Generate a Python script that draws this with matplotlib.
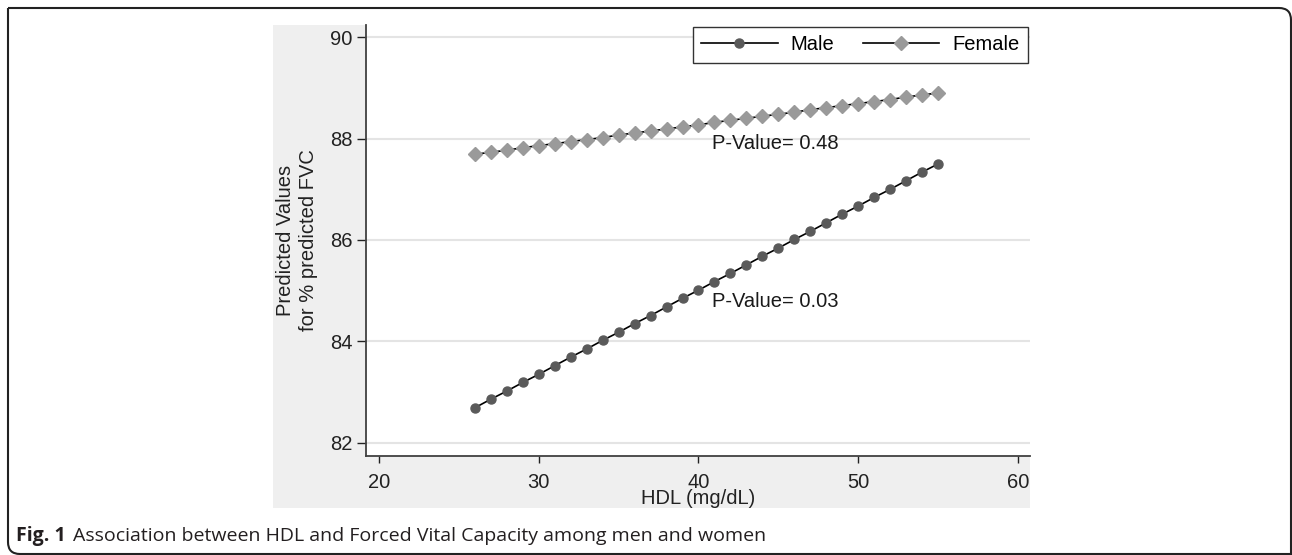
import matplotlib
matplotlib.use("Agg")
import matplotlib.pyplot as plt
from matplotlib.patches import Rectangle, PathPatch
from matplotlib.path import Path
from matplotlib.lines import Line2D

#data
hdl = [26, 27, 28, 29, 30, 31, 32, 33, 34, 35, 36, 37, 38, 39, 40,
       41, 42, 43, 44, 45, 46, 47, 48, 49, 50, 51, 52, 53, 54, 55]
male = [82.69, 82.86, 83.02, 83.19, 83.35, 83.52, 83.69, 83.85, 84.02, 84.18,
        84.35, 84.51, 84.68, 84.85, 85.01, 85.18, 85.34, 85.51, 85.68, 85.84,
        86.01, 86.17, 86.34, 86.51, 86.67, 86.84, 87.00, 87.17, 87.34, 87.50]
female = [87.69, 87.73, 87.77, 87.82, 87.86, 87.90, 87.94, 87.98, 88.02, 88.07,
          88.11, 88.15, 88.19, 88.23, 88.27, 88.32, 88.36, 88.40, 88.44, 88.48,
          88.52, 88.57, 88.61, 88.65, 88.69, 88.73, 88.77, 88.82, 88.86, 88.90]
x_ticks = [20, 30, 40, 50, 60]
y_ticks = [82, 84, 86, 88, 90]
p_labels = ["P-Value= 0.48", "P-Value= 0.03"]
p_pos = [(44.8, 87.91), (44.8, 84.78)]

W, H = 1292, 555
def fx(x):
    return x / W
def fy(y):
    return 1 - y / H

plt.rcParams['font.family'] = ['Liberation Sans', 'DejaVu Sans']
fs = 14.5

fig = plt.figure(figsize=(W / 100, H / 100), dpi=100)

#gray stata style background
fig.add_artist(Rectangle((fx(273), fy(508)), fx(1030) - fx(273), fy(25) - fy(508),
                         transform=fig.transFigure, facecolor='#efefef', edgecolor='none', zorder=0))

#outer box with rounded top-right and bottom-left corners
r = 12
verts = [(8, 8), (1291 - r, 8), (1291, 8), (1291, 8 + r), (1291, 600),
         (8, 8), (8, 554 - r), (8, 554), (8 + r, 554), (1300, 554)]
codes = [Path.MOVETO, Path.LINETO, Path.CURVE3, Path.CURVE3, Path.LINETO,
         Path.MOVETO, Path.LINETO, Path.CURVE3, Path.CURVE3, Path.LINETO]
border = Path([(fx(a), fy(b)) for a, b in verts], codes)
fig.add_artist(PathPatch(border, transform=fig.transFigure, facecolor='none',
                         edgecolor='#222222', linewidth=1.5))

ax = fig.add_axes([fx(366), fy(456), fx(1030) - fx(366), fy(25) - fy(456)])
ax.set_facecolor('white')

ax.plot(hdl, male, color='black', linewidth=1.2, marker='o', markersize=6.5,
        markerfacecolor='#5a5a5a', markeredgecolor='#5a5a5a', zorder=3)
ax.plot(hdl, female, color='black', linewidth=1.2, marker='D', markersize=7.3,
        markerfacecolor='#9a9a9a', markeredgecolor='#9a9a9a', zorder=3)

for txt, (px, py) in zip(p_labels, p_pos):
    ax.text(px, py, txt, ha='center', va='center', fontsize=fs, color='#1a1a1a')

ax.set_xlim(19.19, 60.75)
ax.set_ylim(81.74, 90.24)
ax.set_xticks(x_ticks)
ax.set_yticks(y_ticks)
ax.tick_params(axis='x', length=5, width=1, pad=7, labelsize=fs, colors='#222222')
ax.tick_params(axis='y', length=6.5, width=1, pad=3, labelsize=fs, colors='#222222')
ax.grid(axis='y', color='#e4e4e4', linewidth=1.5)
ax.set_axisbelow(True)
for s in ['top', 'right']:
    ax.spines[s].set_visible(False)
for s in ['left', 'bottom']:
    ax.spines[s].set_color('#404040')
    ax.spines[s].set_linewidth(1.3)

handles = [Line2D([], [], color='black', linewidth=1.2, marker='o', markersize=6.5,
                  markerfacecolor='#5a5a5a', markeredgecolor='#5a5a5a'),
           Line2D([], [], color='black', linewidth=1.2, marker='D', markersize=7.3,
                  markerfacecolor='#9a9a9a', markeredgecolor='#9a9a9a')]
leg = ax.legend(handles, ['Male', 'Female'], ncol=2, loc='upper right',
                bbox_to_anchor=(1, 1), fontsize=fs, fancybox=False,
                borderaxespad=0.12, handlelength=3.8, handletextpad=0.65,
                columnspacing=1.4, borderpad=0.4, framealpha=1)
leg.get_frame().set_edgecolor('#333333')
leg.get_frame().set_linewidth(1)

fig.text(fx(297), fy(240), 'Predicted Values\nfor % predicted FVC', rotation=90,
         ha='center', va='center', fontsize=fs, color='#222222', linespacing=1.25)
fig.text(fx(698), fy(499), 'HDL (mg/dL)', ha='center', va='center', fontsize=fs,
         color='#222222')

#caption
cap = ['Open Sans', 'DejaVu Sans']
fig.text(fx(16), fy(536), 'Fig. 1', ha='left', va='center', fontsize=14,
         fontweight='bold', family=cap, color='#231f20')
fig.text(fx(73), fy(536), 'Association between HDL and Forced Vital Capacity among men and women',
         ha='left', va='center', fontsize=14, family=cap, color='#231f20')

fig.savefig('out.png', dpi=100)
